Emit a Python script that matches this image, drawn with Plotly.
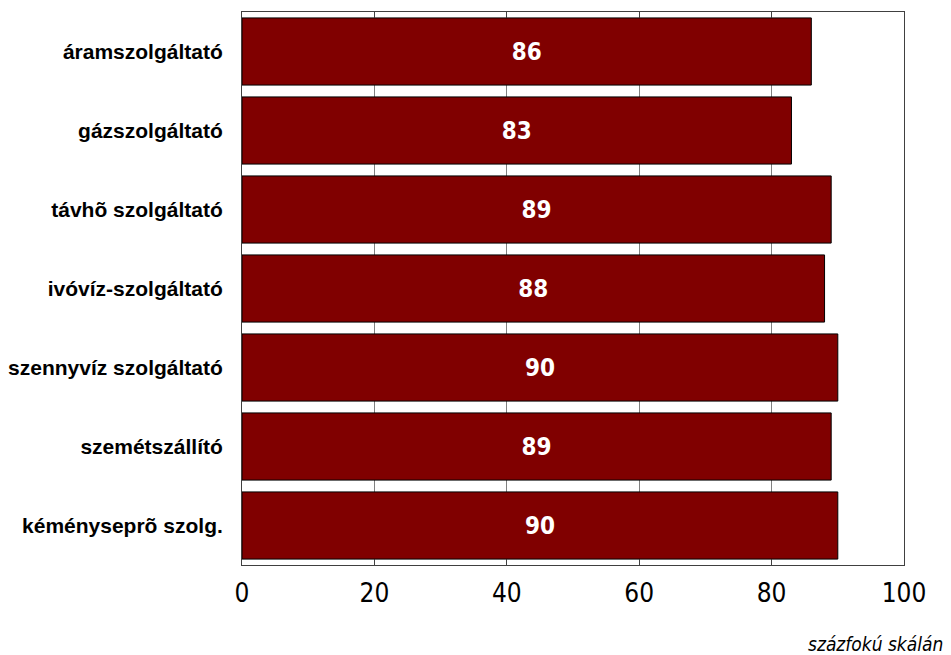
import plotly.graph_objects as go

categories = ["áramszolgáltató", "gázszolgáltató", "távhõ szolgáltató", "ivóvíz-szolgáltató",
              "szennyvíz szolgáltató", "szemétszállító", "kéményseprõ szolg."]
values = [86, 83, 89, 88, 90, 89, 90]
tick_vals = [0, 20, 40, 60, 80, 100]

NARROW = "DejaVu Sans Condensed, Liberation Sans Narrow, Arial Narrow, Liberation Sans"

fig = go.Figure(go.Bar(
    y=categories, x=values, orientation="h",
    marker=dict(color="#800000", line=dict(color="black", width=1)),
    text=[f"<b>{v}</b>" for v in values], textposition="inside", insidetextanchor="middle",
    textfont=dict(color="white", size=24, family=NARROW),
    width=0.85,
))
fig.update_layout(
    width=943, height=647,
    margin=dict(l=234, r=47, t=4, b=90, autoexpand=False),
    plot_bgcolor="white", paper_bgcolor="white",
    showlegend=False,
    font=dict(family="Liberation Sans, Arial", color="black"),
)
fig.update_xaxes(range=[0, 100], tickvals=tick_vals, ticks="inside", ticklen=5, tickcolor="#404040",
                 showgrid=True, gridcolor="#808080", gridwidth=1,
                 showline=True, linecolor="#404040", linewidth=1, mirror="ticks",
                 tickfont=dict(size=26, family=NARROW),
                 zeroline=False, ticklabelstandoff=5, automargin=False)
fig.update_yaxes(autorange="reversed", showline=True, linecolor="#404040", linewidth=1, mirror=True,
                 ticks="", tickfont=dict(size=21, family="Liberation Sans, Arial"),
                 ticklabelstandoff=14, automargin=False)
fig.update_yaxes(tickvals=list(range(len(categories))), ticktext=[f"<b>{c}</b>" for c in categories])
fig.add_annotation(text="<i>százfokú skálán</i>", xref="paper", yref="paper", x=1.062, y=-0.12,
                   xanchor="right", yanchor="top", showarrow=False,
                   font=dict(size=19, family=NARROW))
fig.write_html("out.html")
